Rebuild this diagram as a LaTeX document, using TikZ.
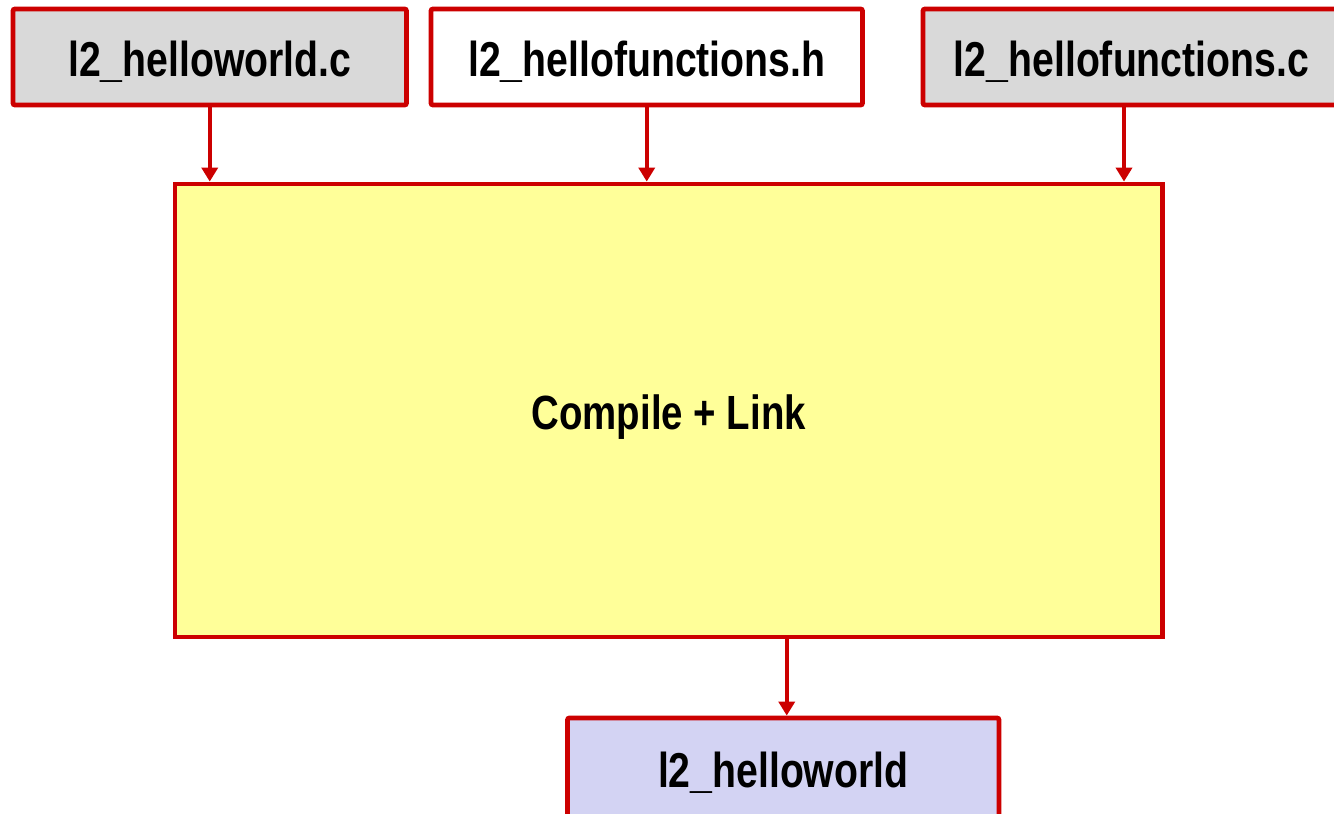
\documentclass[tikz,border=0pt]{standalone}
\usepackage{fontspec}
\newfontfamily\narrowfont{Liberation Sans}[FakeStretch=0.8]
\usetikzlibrary{arrows.meta,calc}
\definecolor{boxred}{HTML}{CC0000}
\definecolor{srcgray}{HTML}{D9D9D9}
\definecolor{stepyellow}{HTML}{FFFF99}
\definecolor{outlav}{HTML}{D3D3F3}
\tikzset{
  filebox/.style={draw=boxred, line width=4.8pt, rounded corners=2pt, inner sep=0pt,
    minimum height=96pt, text height=38pt, text depth=0pt,
    font=\narrowfont\bfseries\fontsize{49}{49}\selectfont},
  flow/.style={draw=boxred, line width=4.3pt, -{Triangle[length=14pt,width=16pt]}}
}
\begin{document}
\begin{tikzpicture}[x=1pt,y=-1pt]
\useasboundingbox (0,0) rectangle (1334,814);
\node[filebox, fill=srcgray, minimum width=393.5pt] (b1) at (209.75,57) {l2\_helloworld.c};
\node[filebox, fill=white, minimum width=431.5pt] (b2) at (646.75,57) {l2\_hellofunctions.h};
\node[filebox, fill=srcgray, minimum width=417pt] (b3) at (1131.5,57) {l2\_hellofunctions.c};
\node[draw=boxred, line width=4.8pt, fill=stepyellow, inner sep=0pt,
  minimum width=987.5pt, minimum height=453pt, text height=38pt, text depth=0pt,
  font=\narrowfont\bfseries\fontsize{48}{48}\selectfont] (big) at (668.75,410.5) {Compile + Link};
\node[filebox, fill=outlav, minimum width=431.5pt, minimum height=100pt] (out) at (783.25,768) {l2\_helloworld};
\draw[flow] (b1.south) -- (b1.south |- big.north);
\draw[flow] (b2.south) -- (b2.south |- big.north);
\coordinate (b3a) at ($(b3.south)+(-7.5,0)$);
\draw[flow] (b3a) -- (b3a |- big.north);
\coordinate (outa) at ($(out.north)+(3.5,0)$);
\draw[flow] (outa |- big.south) -- (outa);
\end{tikzpicture}
\end{document}
